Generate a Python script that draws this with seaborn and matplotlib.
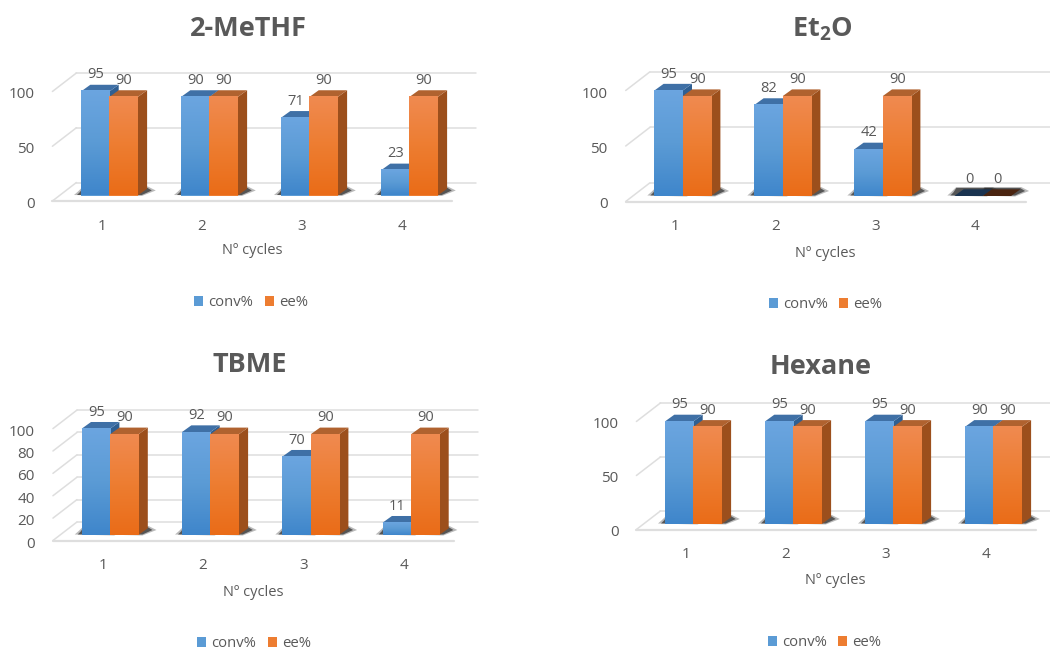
import numpy as np
import pandas as pd
import matplotlib
matplotlib.use("Agg")
import matplotlib.pyplot as plt
from matplotlib.colors import LinearSegmentedColormap
from matplotlib.patches import Patch, Polygon
from matplotlib.transforms import Affine2D
import seaborn as sns

# Measured values per solvent, one entry per recycling run
cycles = ["1", "2", "3", "4"]
methf_conv = [95, 90, 71, 23]
methf_ee = [90, 90, 90, 90]
et2o_conv = [95, 82, 42, 0]
et2o_ee = [90, 90, 90, 0]
tbme_conv = [95, 92, 70, 11]
tbme_ee = [90, 90, 90, 90]
hexane_conv = [95, 95, 95, 90]
hexane_ee = [90, 90, 90, 90]

titles = ["2-MeTHF", r"Et$_{\mathbf{2}}$O", "TBME", "Hexane"]
conv_series = [methf_conv, et2o_conv, tbme_conv, hexane_conv]
ee_series = [methf_ee, et2o_ee, tbme_ee, hexane_ee]
ytick_sets = [[0, 50, 100], [0, 50, 100], [0, 20, 40, 60, 80, 100], [0, 50, 100]]

# Panel placement in figure pixels, measured from the top-left corner
panels = [
    dict(bar_left=81.0, base=195.5, unit=1.095, step=100.0, title=(248, 29), xlabel=(252, 251), legend=(251, 303), tick_y=226),
    dict(bar_left=654.3, base=196.0, unit=1.11, step=100.0, title=(822, 29), xlabel=(825, 253.5), legend=(825.5, 305), tick_y=227),
    dict(bar_left=81.7, base=535.0, unit=1.119, step=100.3, title=(250, 365.5), xlabel=(253, 592), legend=(254, 643.5), tick_y=565.5),
    dict(bar_left=665.0, base=524.0, unit=1.08, step=100.0, title=(821, 366.5), xlabel=(835, 580.5), legend=(824.5, 642.5), tick_y=554.5),
]

BAR_PX = 28.4
DEPTH_X, DEPTH_Y = 9.3, 6.7
FIG_W, FIG_H = 1050, 650
TEXT = "#595959"
GRID = "#dedede"

STYLE = {
    "conv%": dict(face="#5b9bd5", light="#6ba5e0", dark="#3f86cb", top="#3f70a6", side="#2f5f92", flat="#1a3350"),
    "ee%": dict(face="#ed7d31", light="#f08a50", dark="#ea6c18", top="#b0622f", side="#9c4f1c", flat="#4a2410"),
}

sns.set_theme(style="white")
plt.rcParams["font.family"] = ["Open Sans", "DejaVu Sans"]
plt.rcParams["mathtext.fontset"] = "custom"
plt.rcParams["mathtext.bf"] = "Open Sans:bold"
plt.rcParams["mathtext.rm"] = "Open Sans"

fig = plt.figure(figsize=(FIG_W / 100, FIG_H / 100), dpi=100, facecolor="white")


def px_offset(dx, dy):
    """Shift an artist by screen pixels (dy positive means downward)."""
    return Affine2D().translate(dx, -dy)


def draw_panel(title, conv, ee, yticks, p):
    left = p["bar_left"] + BAR_PX - p["step"] / 2
    width = 4 * p["step"]
    height = 100 * p["unit"]
    ax = fig.add_axes([left / FIG_W, 1 - p["base"] / FIG_H, width / FIG_W, height / FIG_H])
    ax.patch.set_alpha(0)

    frame = pd.DataFrame({
        "cycle": cycles * 2,
        "series": ["conv%"] * 4 + ["ee%"] * 4,
        "value": conv + ee,
    })
    sns.barplot(data=frame, x="cycle", y="value", hue="series", order=cycles,
                hue_order=["conv%", "ee%"], width=2 * BAR_PX / p["step"], gap=0,
                palette={k: v["face"] for k, v in STYLE.items()}, legend=False,
                saturation=1, linewidth=0, ax=ax, zorder=5)

    ax.set_xlim(-0.5, 3.5)
    ax.set_ylim(0, 100)
    to_x = 1 / p["step"]
    to_y = 1 / p["unit"]

    # Back wall, side wall and floor edges of the chart box
    x_front, x_back = -0.5 - 7 * to_x, -0.5 + 17 * to_x
    back_rise = 13 * to_y
    for tick in yticks:
        ax.plot([x_back, x_back + 4], [tick + back_rise] * 2, color=GRID, lw=1.1, clip_on=False, zorder=1)
        ax.plot([x_front, x_back], [tick - 5.5 * to_y, tick + back_rise], color=GRID, lw=1.1, clip_on=False, zorder=1)
    ax.plot([x_front, x_front + 4], [-5.5 * to_y] * 2, color=GRID, lw=1.6, clip_on=False, zorder=1)

    # Extruded faces, floor shadow and shaded front of every bar
    for container, name in zip(ax.containers, ["conv%", "ee%"]):
        st = STYLE[name]
        order = 3 if name == "conv%" else 4
        ramp = LinearSegmentedColormap.from_list(name, [st["dark"], st["face"], st["light"]])
        for bar in container:
            x0, x1 = bar.get_x(), bar.get_x() + bar.get_width()
            h = bar.get_height()
            dx, dy = DEPTH_X * to_x, DEPTH_Y * to_y

            outer = [(x0 - 7 * to_x, 0.5 * to_y), (x1 + 4 * to_x, -0.5 * to_y), (x1 + 18 * to_x, 5 * to_y),
                     (x1 + 10 * to_x, 9 * to_y), (x0 + 2 * to_x, 9 * to_y), (x0 - 3 * to_x, 4 * to_y)]
            inner = [(x0 - 4 * to_x, 0.5 * to_y), (x1 + 4 * to_x, 0.5 * to_y), (x1 + 14 * to_x, 5 * to_y),
                     (x1 + 9 * to_x, 8 * to_y), (x0 + 2 * to_x, 8 * to_y), (x0 - 1 * to_x, 3.5 * to_y)]
            ax.add_patch(Polygon(outer, closed=True, fc="#3a3a3a", ec="none", alpha=0.35, clip_on=False, zorder=2))
            ax.add_patch(Polygon(inner, closed=True, fc="#2b2b2b", ec="none", alpha=0.7, clip_on=False, zorder=2))

            top_colour = st["flat"] if h == 0 else st["top"]
            ax.add_patch(Polygon([(x1, 0), (x1 + dx, dy), (x1 + dx, h + dy), (x1, h)], closed=True,
                                 fc=st["side"], ec="none", clip_on=False, zorder=order))
            ax.add_patch(Polygon([(x0, h), (x1, h), (x1 + dx, h + dy), (x0 + dx, h + dy)], closed=True,
                                 fc=top_colour, ec="none", clip_on=False, zorder=order))
            if h > 0:
                shade = np.linspace(0, 1, 64).reshape(-1, 1)
                ax.imshow(shade, extent=(x0, x1, 0, h), origin="lower", aspect="auto", cmap=ramp, zorder=5.5)

            ax.annotate(f"{h:.0f}", xy=(bar.get_x() + bar.get_width() / 2, h), xytext=(0.5, 16.5),
                        textcoords="offset pixels", ha="center", va="center", fontsize=10.5,
                        color=TEXT, annotation_clip=False, zorder=7)

    ax.set_xlim(-0.5, 3.5)
    ax.set_ylim(0, 100)
    sns.despine(ax=ax, left=True, bottom=True, top=True, right=True)

    ax.set_yticks(yticks)
    ax.set_yticklabels([str(t) for t in yticks], fontsize=11, color=TEXT)
    ax.set_xticks(range(len(cycles)))
    ax.set_xticklabels(cycles, fontsize=11, color=TEXT)
    ax.tick_params(axis="both", length=0, pad=0)
    for lab in ax.get_yticklabels():
        lab.set_transform(lab.get_transform() + px_offset(-25, 7))
    for lab in ax.get_xticklabels():
        lab.set_verticalalignment("center")
        lab.set_transform(lab.get_transform() + px_offset(-7.5, p["tick_y"] - p["base"]))

    ax.set_xlabel("Nº cycles", fontsize=10.5, color=TEXT)
    ax.xaxis.set_label_coords((p["xlabel"][0] - left) / width, (p["base"] - p["xlabel"][1]) / height)
    ax.xaxis.label.set_verticalalignment("center")
    ax.set_ylabel("")

    ax.set_title(title, fontsize=19.5, fontweight="bold", color=TEXT, va="center", pad=0,
                 x=(p["title"][0] - left) / width, y=(p["base"] - p["title"][1]) / height)

    handles = [Patch(fc=STYLE[k]["face"], ec="none", label=k) for k in STYLE]
    ax.legend(handles=handles, ncol=2, frameon=False, loc="center", fontsize=10.7,
              bbox_to_anchor=(p["legend"][0] / FIG_W, 1 - p["legend"][1] / FIG_H), bbox_transform=fig.transFigure,
              handlelength=0.62, handleheight=0.62, handletextpad=0.35, columnspacing=0.75,
              labelcolor=TEXT, borderpad=0, borderaxespad=0)


for title, conv, ee, yticks, p in zip(titles, conv_series, ee_series, ytick_sets, panels):
    draw_panel(title, conv, ee, yticks, p)

fig.savefig("out.png", dpi=100, facecolor="white")
